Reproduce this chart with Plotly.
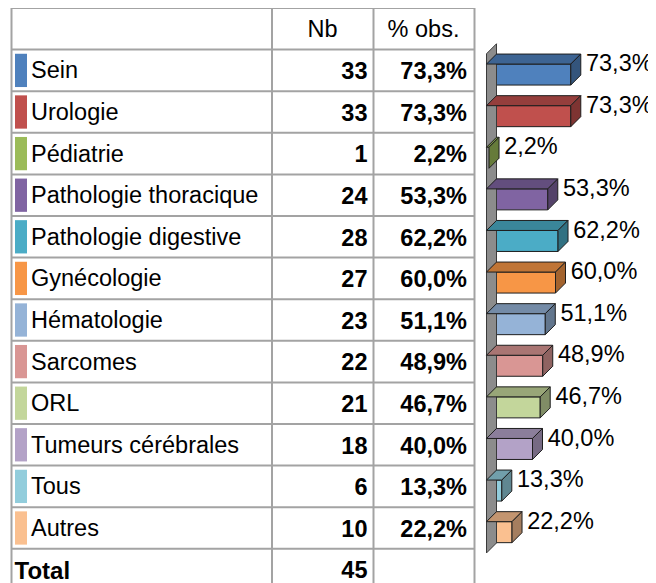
import plotly.graph_objects as go

# ---------------- data ----------------
categories = ["Sein", "Urologie", "Pédiatrie", "Pathologie thoracique",
              "Pathologie digestive", "Gynécologie", "Hématologie", "Sarcomes",
              "ORL", "Tumeurs cérébrales", "Tous", "Autres"]
counts = [33, 33, 1, 24, 28, 27, 23, 22, 21, 18, 6, 10]
percents = [73.3, 73.3, 2.2, 53.3, 62.2, 60.0, 51.1, 48.9, 46.7, 40.0, 13.3, 22.2]
total_count = 45
header_nb = "Nb"
header_pct = "% obs."
total_label = "Total"
colors = ["#4F81BD", "#C0504D", "#9BBB59", "#8064A2", "#4BACC6", "#F79646",
          "#95B3D7", "#D99694", "#C3D69B", "#B3A2C7", "#92CDDC", "#FAC090"]

# ---------------- layout constants ----------------
PAGE_W, PAGE_H = 656, 583
BODY = 8                      # default page margin around the plot div
W, H = PAGE_W - BODY, PAGE_H - BODY
ROW_H = 41.6
TABLE_TOP = 8                 # page pixel of the table's top border
FONT = "Liberation Sans, Arial, sans-serif"
GRID = "#A3A3A3"
OUTLINE = "#1E1E1E"

n = len(categories)
idx = list(range(n))
total_idx = n
header_idx = -1
# y axis in row units: row i centre sits at page px TABLE_TOP + (i + 1.5) * ROW_H
y_top = -1.5 + (BODY - TABLE_TOP) / ROW_H
y_bot = -1.5 + (PAGE_H - TABLE_TOP) / ROW_H

PX_PER_UNIT = 1.15
ZERO_PX = 486.5               # page px of 0 %
x2_range = [(BODY - ZERO_PX) / PX_PER_UNIT, (PAGE_W - ZERO_PX) / PX_PER_UNIT]
DX = 10 / PX_PER_UNIT
DY = 10 / ROW_H
BAR_OFF = 0.1
BAR_W = 0.505
LBL_DOWN = 0.05
NUM_DOWN = 0.07


def fmt_pct(p):
    return f"{p:.1f}".replace(".", ",") + "%"


def shade(hex_color, f):
    h = hex_color.lstrip("#")
    r, g, b = (int(h[i:i + 2], 16) for i in (0, 2, 4))
    return "#%02X%02X%02X" % (int(r * f), int(g * f), int(b * f))


fig = go.Figure()

# ---------------- table: swatches ----------------
fig.add_trace(go.Bar(
    y=idx, x=[12] * n, base=[15] * n, orientation="h", width=0.8,
    marker=dict(color=colors, line=dict(width=0)),
    xaxis="x", yaxis="y", hoverinfo="skip", showlegend=False))

# category labels
fig.add_trace(go.Scatter(
    x=[31] * n, y=[i + LBL_DOWN for i in idx], mode="text", text=categories,
    textposition="middle right",
    textfont=dict(family=FONT, size=23.5, color="black"),
    xaxis="x", yaxis="y", hoverinfo="skip", showlegend=False, cliponaxis=False))

# counts
fig.add_trace(go.Scatter(
    x=[367.5] * (n + 1), y=[i + NUM_DOWN for i in idx + [total_idx]], mode="text",
    text=[f"<b>{c}</b>" for c in counts] + [f"<b>{total_count}</b>"],
    textposition="middle left",
    textfont=dict(family=FONT, size=23.5, color="black"),
    xaxis="x", yaxis="y", hoverinfo="skip", showlegend=False, cliponaxis=False))

# percents
fig.add_trace(go.Scatter(
    x=[467] * n, y=[i + NUM_DOWN for i in idx], mode="text",
    text=[f"<b>{fmt_pct(p)}</b>" for p in percents],
    textposition="middle left",
    textfont=dict(family=FONT, size=23.5, color="black"),
    xaxis="x", yaxis="y", hoverinfo="skip", showlegend=False, cliponaxis=False))

# headers + total label
fig.add_trace(go.Scatter(
    x=[322.5, 423.5], y=[header_idx + LBL_DOWN] * 2, mode="text",
    text=[header_nb, header_pct], textposition="middle center",
    textfont=dict(family=FONT, size=23.5, color="black"),
    xaxis="x", yaxis="y", hoverinfo="skip", showlegend=False, cliponaxis=False))
fig.add_trace(go.Scatter(
    x=[14.5], y=[total_idx + NUM_DOWN], mode="text",
    text=[f"<b>{total_label}</b>"], textposition="middle right",
    textfont=dict(family=FONT, size=24, color="black"),
    xaxis="x", yaxis="y", hoverinfo="skip", showlegend=False, cliponaxis=False))

# ---------------- 3D bar chart ----------------
# left wall
wt = -0.5 + BAR_OFF
wb = n - 0.5 + BAR_OFF
fig.add_trace(go.Scatter(
    x=[0, DX, DX, 0, 0], y=[wt, wt - DY, wb - DY, wb, wt],
    mode="lines", fill="toself", fillcolor="#8C8C8C",
    line=dict(color="#3A3A3A", width=1),
    xaxis="x2", yaxis="y", hoverinfo="skip", showlegend=False))

# front faces
fig.add_trace(go.Bar(
    y=[i + BAR_OFF for i in idx], x=percents, orientation="h", width=BAR_W,
    marker=dict(color=colors, line=dict(color=OUTLINE, width=1)),
    xaxis="x2", yaxis="y", hoverinfo="skip", showlegend=False))

# top and side faces
for i, p, c in zip(idx, percents, colors):
    yt = i + BAR_OFF - BAR_W / 2
    yb = i + BAR_OFF + BAR_W / 2
    fig.add_trace(go.Scatter(
        x=[0, p, p + DX, DX, 0], y=[yt, yt, yt - DY, yt - DY, yt],
        mode="lines", fill="toself", fillcolor=shade(c, 0.78),
        line=dict(color=OUTLINE, width=1),
        xaxis="x2", yaxis="y", hoverinfo="skip", showlegend=False))
    fig.add_trace(go.Scatter(
        x=[p, p + DX, p + DX, p, p], y=[yt, yt - DY, yb - DY, yb, yt],
        mode="lines", fill="toself", fillcolor=shade(c, 0.66),
        line=dict(color=OUTLINE, width=1),
        xaxis="x2", yaxis="y", hoverinfo="skip", showlegend=False))

# value labels
fig.add_trace(go.Scatter(
    x=[p + DX + 4.5 for p in percents], y=[i - 0.12 for i in idx], mode="text",
    text=[fmt_pct(p) for p in percents], textposition="middle right",
    textfont=dict(family=FONT, size=23.5, color="black"),
    xaxis="x2", yaxis="y", hoverinfo="skip", showlegend=False, cliponaxis=False))

# ---------------- table grid ----------------
shapes = []
col_x = [11.5, 272, 373.5, 474.5]
for yb in [-1.5] + [i + 0.5 for i in range(-1, n)]:
    shapes.append(dict(type="line", xref="x", yref="y", x0=col_x[0], x1=col_x[-1],
                       y0=yb, y1=yb, line=dict(color=GRID, width=2)))
for xc in col_x:
    shapes.append(dict(type="line", xref="x", yref="y", x0=xc, x1=xc,
                       y0=-1.5, y1=y_bot, line=dict(color=GRID, width=2)))

fig.update_layout(
    width=W, height=H, autosize=False,
    margin=dict(l=0, r=0, t=0, b=0, pad=0),
    paper_bgcolor="white", plot_bgcolor="white",
    showlegend=False, barmode="overlay",
    xaxis=dict(range=[BODY, PAGE_W], domain=[0, 1], visible=False, fixedrange=True),
    xaxis2=dict(range=x2_range, domain=[0, 1], visible=False, fixedrange=True,
                overlaying="x"),
    yaxis=dict(range=[y_bot, y_top], domain=[0, 1], visible=False, fixedrange=True),
    shapes=shapes,
)

fig.write_html("out.html")
